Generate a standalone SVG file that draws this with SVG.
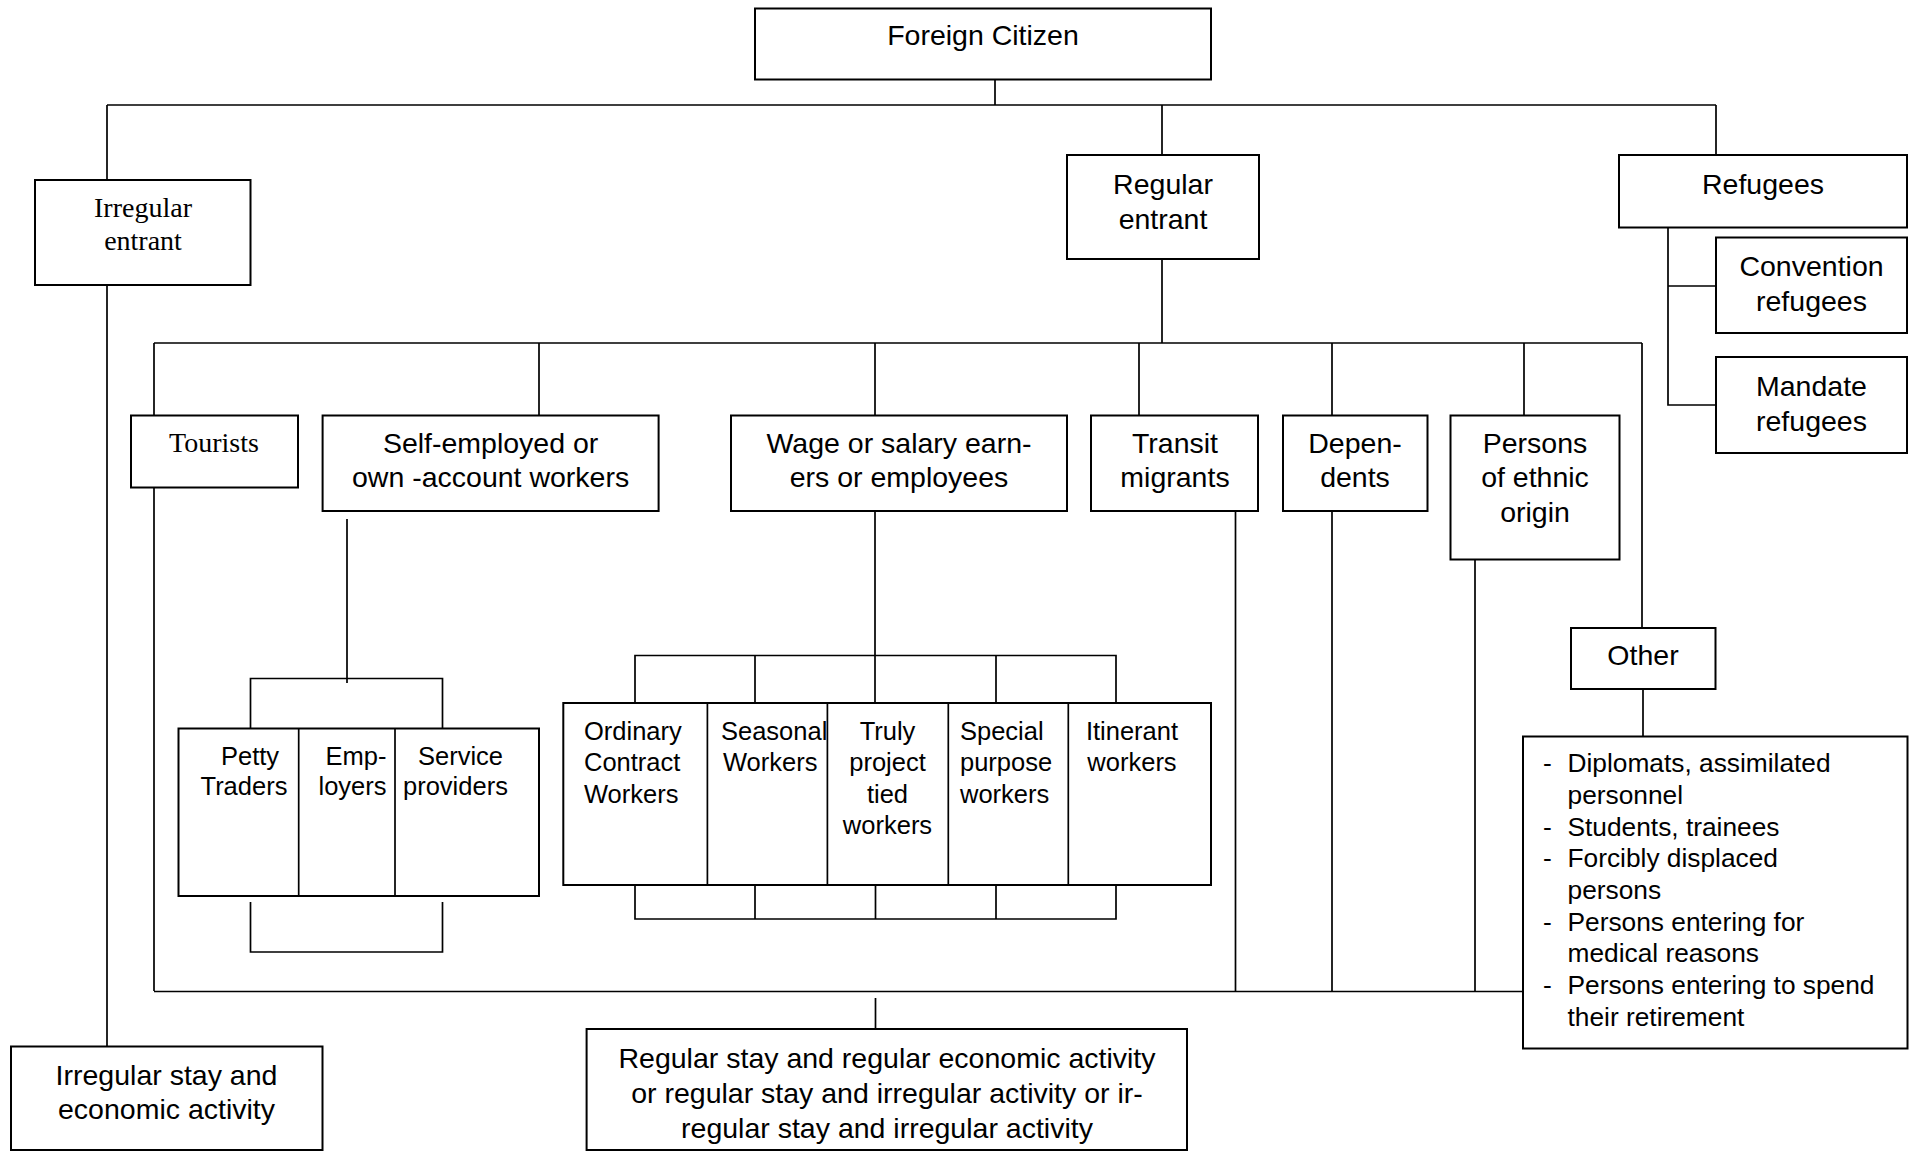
<svg xmlns="http://www.w3.org/2000/svg" width="1916" height="1151" viewBox="0 0 1916 1151">
<style>
rect{fill:#fff;stroke:#000;stroke-width:2}
.ln{fill:none;stroke:#000;stroke-width:1.7}
text{font-family:"Liberation Sans",Arial,sans-serif;font-size:28.5px;fill:#000}
.c{text-anchor:middle}
.serif{font-family:"Liberation Serif","Times New Roman",serif;font-size:28px}
.sm{font-size:25.5px}
.ls{font-size:26.3px}
</style>
<rect x="0" y="0" width="1916" height="1151" style="fill:#fff;stroke:none"/>
<g id="connectors">
<path class="ln" d="M995 79V105M107 105H1716M107 105V180M1162 105V155M1716 105V155M107 285V1046M1162 259V343M154 343H1642M154 343V415M539 343V415M875 343V415M1139 343V415M1332 343V415M1524 343V415M1642 343V628M154 488V991M347 519V683M250.5 728V678.5H442.5V728M250.5 902V952H442.5V902M875 511V703M635 703V655.5H1116V703M755 655.5V703M996 655.5V703M635 885V919H1116V885M755 885V919M875.5 885V919M996 885V919M1235.5 511V991M1332 511V991M1475 559.5V991M154 991.5H1523M1643 689V737M875.5 998V1029M1668 223V405H1716M1668 286H1716"/>
</g>
<g id="foreign-citizen"><rect x="755" y="8.5" width="456" height="71"/><text class="c" x="983" y="45">Foreign Citizen</text></g>
<g id="irregular-entrant"><rect x="35" y="180" width="215.5" height="105"/><text class="c serif" x="143" y="216.5">Irregular</text><text class="c serif" x="143" y="250">entrant</text></g>
<g id="regular-entrant"><rect x="1067" y="155" width="192" height="104"/><text class="c" x="1163" y="194">Regular</text><text class="c" x="1163" y="229">entrant</text></g>
<g id="refugees"><rect x="1619" y="155" width="288" height="72.5"/><text class="c" x="1763" y="194">Refugees</text></g>
<g id="convention-refugees"><rect x="1716" y="237.5" width="191" height="95.5"/><text class="c" x="1811.5" y="276">Convention</text><text class="c" x="1811.5" y="310.5">refugees</text></g>
<g id="mandate-refugees"><rect x="1716" y="357" width="191" height="96"/><text class="c" x="1811.5" y="396">Mandate</text><text class="c" x="1811.5" y="431">refugees</text></g>
<g id="tourists"><rect x="131" y="415.5" width="167" height="72"/><text class="c serif" x="214" y="451.5">Tourists</text></g>
<g id="self-employed"><rect x="322.6" y="415.5" width="336" height="95.5"/><text class="c" x="490.6" y="453">Self-employed or</text><text class="c" x="490.6" y="487">own -account workers</text></g>
<g id="wage-earners"><rect x="731" y="415.5" width="336" height="95.5"/><text class="c" x="899" y="453">Wage or salary earn-</text><text class="c" x="899" y="487">ers or employees</text></g>
<g id="transit-migrants"><rect x="1091" y="415.5" width="167" height="95.5"/><text class="c" x="1175" y="453">Transit</text><text class="c" x="1175" y="487">migrants</text></g>
<g id="dependents"><rect x="1283" y="415.5" width="144.5" height="95.5"/><text class="c" x="1355" y="453">Depen-</text><text class="c" x="1355" y="487">dents</text></g>
<g id="ethnic-origin"><rect x="1450.5" y="415.5" width="169" height="144"/><text class="c" x="1535" y="453">Persons</text><text class="c" x="1535" y="487">of ethnic</text><text class="c" x="1535" y="521.5">origin</text></g>
<g id="other"><rect x="1571" y="628" width="144.5" height="61"/><text class="c" x="1643" y="665">Other</text></g>
<g id="other-list"><rect x="1523" y="736.5" width="384.5" height="312"/>
<g class="ls">
<text class="ls" x="1543" y="772">-</text><text class="ls" x="1567.5" y="772">Diplomats, assimilated</text>
<text class="ls" x="1567.5" y="804">personnel</text>
<text class="ls" x="1543" y="835.5">-</text><text class="ls" x="1567.5" y="835.5">Students, trainees</text>
<text class="ls" x="1543" y="867">-</text><text class="ls" x="1567.5" y="867">Forcibly displaced</text>
<text class="ls" x="1567.5" y="899">persons</text>
<text class="ls" x="1543" y="930.5">-</text><text class="ls" x="1567.5" y="930.5">Persons entering for</text>
<text class="ls" x="1567.5" y="962">medical reasons</text>
<text class="ls" x="1543" y="994">-</text><text class="ls" x="1567.5" y="994">Persons entering to spend</text>
<text class="ls" x="1567.5" y="1025.5">their retirement</text>
</g></g>
<g id="self-employed-types"><rect x="178.5" y="728.5" width="360.5" height="167.5"/><path class="ln" d="M298.7 728.5V896M395 728.5V896"/>
<text class="sm" x="221" y="765">Petty</text><text class="sm" x="200.5" y="795">Traders</text>
<text class="sm" x="325.5" y="765">Emp-</text><text class="sm" x="318.5" y="795">loyers</text>
<text class="sm" x="418" y="765">Service</text><text class="sm" x="403" y="795">providers</text></g>
<g id="wage-types"><rect x="563.3" y="703" width="647.7" height="182"/><path class="ln" d="M707.4 703V885M827.4 703V885M948.3 703V885M1068.3 703V885"/>
<text class="sm" x="584" y="740">Ordinary</text><text class="sm" x="584" y="771">Contract</text><text class="sm" x="584" y="802.5">Workers</text>
<text class="sm" x="721" y="740">Seasonal</text><text class="sm" x="723" y="771">Workers</text>
<text class="sm c" x="887.5" y="740">Truly</text><text class="sm c" x="887.5" y="771">project</text><text class="sm c" x="887.5" y="802.5">tied</text><text class="sm c" x="887.5" y="833.5">workers</text>
<text class="sm" x="960" y="740">Special</text><text class="sm" x="960" y="771">purpose</text><text class="sm" x="960" y="802.5">workers</text>
<text class="sm c" x="1132" y="740">Itinerant</text><text class="sm c" x="1132" y="771">workers</text></g>
<g id="irregular-stay"><rect x="11" y="1046.5" width="311.5" height="103.5"/><text class="c" x="166.5" y="1085">Irregular stay and</text><text class="c" x="166.5" y="1119">economic activity</text></g>
<g id="regular-stay"><rect x="586.6" y="1029" width="600.4" height="121"/><text class="c" x="887" y="1068">Regular stay and regular economic activity</text><text class="c" x="887" y="1103">or regular stay and irregular activity or ir-</text><text class="c" x="887" y="1138">regular stay and irregular activity</text></g>
</svg>
